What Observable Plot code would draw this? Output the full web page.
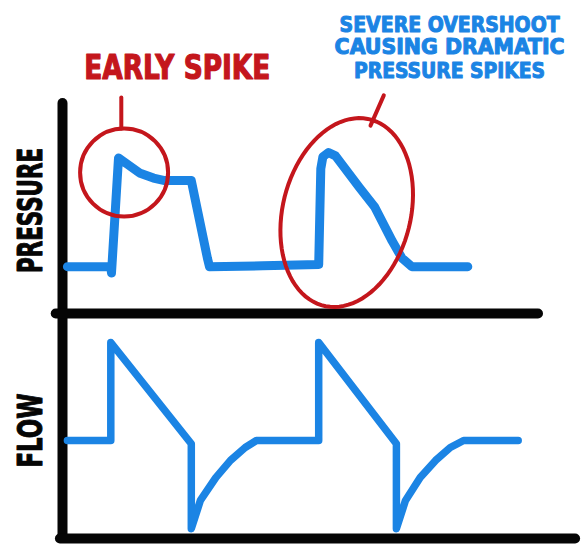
<!DOCTYPE html>
<html>
<head>
<meta charset="utf-8">
<script src="https://cdn.jsdelivr.net/npm/d3@7"></script>
<script src="https://cdn.jsdelivr.net/npm/@observablehq/plot@0.6"></script>
<style>
  html, body { margin: 0; padding: 0; background: #ffffff; }
  #wrap { position: relative; width: 583px; height: 559px; overflow: hidden; }
  #wrap svg { position: absolute; left: 0; }
</style>
</head>
<body>
<div id="wrap"></div>
<script>
// ---- Data (hand-drawn ventilator waveforms, arbitrary units) ----
// Pressure trace
const pressureTime = [0.07, 0.69, 0.70, 0.80, 0.93, 1.10, 1.30, 1.46, 1.84, 2.07, 2.10, 2.86, 3.66, 3.69, 3.72, 3.80, 3.90, 4.24, 4.46, 4.71, 4.85, 4.99, 5.79];
const pressureValue = [11, 11, 9.5, 36.5, 35, 33, 31.8, 31.2, 31.2, 13, 11, 11.2, 11.5, 34, 36.8, 37.8, 37, 29.6, 25, 17, 13, 11, 11];
// Flow trace
const flowTime = [0.07, 0.69, 0.69, 1.84, 1.84, 1.97, 2.19, 2.40, 2.61, 2.77, 3.66, 3.66, 4.77, 4.77, 4.90, 5.11, 5.33, 5.54, 5.73, 6.51];
const flowValue = [0, 0, 60, -2, -54, -36.7, -22.7, -12.2, -4.3, 0, 0, 60, -2, -54, -36.7, -22.7, -12.2, -4.3, 0, 0];
// Axis labels
const panelLabels = ["PRESSURE", "FLOW"];
// Annotations
const earlyLabel = "EARLY SPIKE";
const overshootLines = ["SEVERE OVERSHOOT", "CAUSING DRAMATIC", "PRESSURE SPIKES"];
// annotation anchors (time, pressure)
const earlyCircle = {t: 0.88, p: 33.1};
const earlyLeader = [{t: 0.84, p: 43.4}, {t: 0.84, p: 50.7}];
const earlyText = {t: 1.64, p: 57.7};
const overshootEllipse = {t: 4.06, p: 23.7};
const overshootLeader = [{t: 4.40, p: 44.1}, {t: 4.59, p: 51.2}];
const overshootTextT = 5.53;
const overshootTextP = [67.6, 62.4, 56.8];

// ---- Styles ----
const BLUE = "#1b84e4";
const RED = "#c4161c";
const INK = "#050505";
const FONT = "'Liberation Sans Narrow', 'DejaVu Sans Condensed', 'Roboto Condensed', 'Liberation Sans', sans-serif";

const pressureData = pressureTime.map((t, i) => ({t, v: pressureValue[i]}));
const flowData = flowTime.map((t, i) => ({t, v: flowValue[i]}));

// custom tilted ellipse symbol (semi-axes in px)
function ellipseSymbol(a, b, deg) {
  const phi = deg * Math.PI / 180;
  return {
    draw(ctx) {
      const n = 90;
      for (let i = 0; i <= n; i++) {
        const u = (i / n) * 2 * Math.PI;
        const x = b * Math.cos(u), y = a * Math.sin(u);
        const xr = x * Math.cos(phi) - y * Math.sin(phi);
        const yr = x * Math.sin(phi) + y * Math.cos(phi);
        if (i === 0) ctx.moveTo(xr, yr); else ctx.lineTo(xr, yr);
      }
      ctx.closePath();
    }
  };
}

const xDomain = [0, 6.8];

const topChart = Plot.plot({
  width: 583,
  height: 320,
  marginLeft: 62,
  marginRight: 45,
  marginTop: 100,
  marginBottom: 7,
  style: {background: "transparent", overflow: "visible"},
  x: {domain: xDomain, axis: null},
  y: {domain: [0, 50], axis: null},
  marks: [
    Plot.ruleX([0], {y1: 0, y2: 49.3, stroke: INK, strokeWidth: 10, strokeLinecap: "round"}),
    Plot.ruleY([0], {x1: -0.09, x2: 6.8, stroke: INK, strokeWidth: 10, strokeLinecap: "round"}),
    Plot.line(pressureData, {x: "t", y: "v", stroke: BLUE, strokeWidth: 9, strokeLinejoin: "round", strokeLinecap: "round"}),
    Plot.dot([earlyCircle], {x: "t", y: "p", r: 44, stroke: RED, strokeWidth: 4, fill: "none"}),
    Plot.line(earlyLeader, {x: "t", y: "p", stroke: RED, strokeWidth: 4, strokeLinecap: "round"}),
    Plot.dot([overshootEllipse], {x: "t", y: "p", symbol: ellipseSymbol(96, 64, 14), stroke: RED, strokeWidth: 4, fill: "none"}),
    Plot.line(overshootLeader, {x: "t", y: "p", stroke: RED, strokeWidth: 4, strokeLinecap: "round"}),
    Plot.text([earlyLabel], {x: earlyText.t, y: earlyText.p, text: d => d, fill: RED, stroke: RED, strokeWidth: 1.2, fontSize: 34, fontWeight: "bold", fontFamily: FONT}),
    Plot.text(overshootLines, {x: overshootTextT, y: (d, i) => overshootTextP[i], text: d => d, fill: BLUE, stroke: BLUE, strokeWidth: 1, fontSize: 21, fontWeight: "bold", fontFamily: FONT}),
    Plot.text([panelLabels[0]], {x: -0.44, y: 24.2, text: d => d, rotate: -90, fill: INK, stroke: INK, strokeWidth: 1, fontSize: 33, fontWeight: "bold", fontFamily: FONT})
  ]
});
topChart.style.top = "0px";

const bottomChart = Plot.plot({
  width: 583,
  height: 259,
  marginLeft: 62,
  marginRight: 45,
  marginTop: 42,
  marginBottom: 21,
  style: {background: "transparent", overflow: "visible"},
  x: {domain: xDomain, axis: null},
  y: {domain: [-60, 60], axis: null},
  marks: [
    Plot.ruleX([0], {y1: -60, y2: 78.4, stroke: INK, strokeWidth: 10, strokeLinecap: "round"}),
    Plot.ruleY([-60], {x1: -0.03, x2: 7.33, stroke: INK, strokeWidth: 10, strokeLinecap: "round"}),
    Plot.line(flowData, {x: "t", y: "v", stroke: BLUE, strokeWidth: 7.5, strokeLinejoin: "round", strokeLinecap: "round"}),
    Plot.text([panelLabels[1]], {x: -0.44, y: 6.1, text: d => d, rotate: -90, fill: INK, stroke: INK, strokeWidth: 1, fontSize: 33, fontWeight: "bold", fontFamily: FONT})
  ]
});
bottomChart.style.top = "300px";

const wrap = document.getElementById("wrap");
wrap.appendChild(bottomChart);
wrap.appendChild(topChart);

// fit hand-lettered text widths
const textWidths = {"EARLY SPIKE": 186, "SEVERE OVERSHOOT": 220, "CAUSING DRAMATIC": 230, "PRESSURE SPIKES": 191, "PRESSURE": 125, "FLOW": 74};
d3.select(wrap).selectAll("text").each(function() {
  const w = textWidths[this.textContent];
  if (w) {
    this.setAttribute("textLength", w);
    this.setAttribute("lengthAdjust", "spacingAndGlyphs");
  }
});
</script>
</body>
</html>
